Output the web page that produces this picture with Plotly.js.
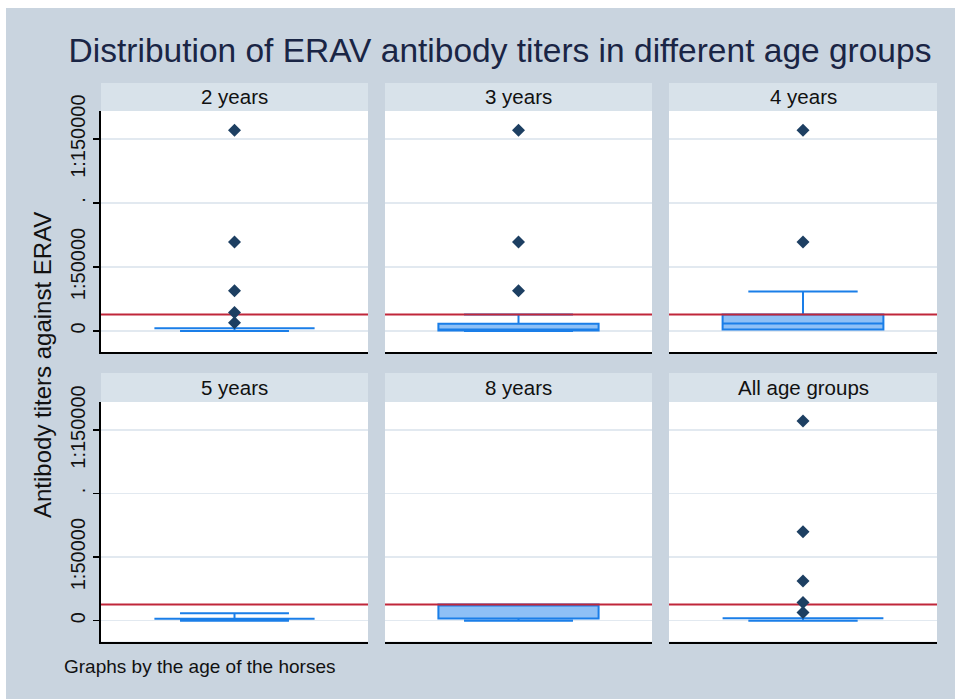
<!DOCTYPE html>
<html>
<head>
<meta charset="utf-8">
<script src="https://cdn.plot.ly/plotly-3.0.1.min.js"></script>
<style>
  html, body { margin: 0; padding: 0; background: #ffffff; }
  #chart { position: absolute; left: 6px; top: 8px; width: 949px; height: 691px; }
</style>
</head>
<body>
<div id="chart"></div>
<script>
// ---- Data ----
const groups = ["2 years", "3 years", "4 years", "5 years", "8 years", "All age groups"];
const q1Values = [2000, 400, 1100, 1600, 1800, 2000];
const medianValues = [2000, 1000, 5800, 1600, 12800, 2000];
const q3Values = [2000, 5600, 12800, 1600, 12800, 2000];
const lowerFenceValues = [0, 0, 1100, 0, 0, 0];
const upperFenceValues = [2000, 12800, 30800, 5800, 12800, 2000];
const outliers2y = [157000, 69500, 31400, 14400, 6300];
const outliers3y = [157000, 69500, 31400];
const outliers4y = [157000, 69500];
const outliers5y = [];
const outliers8y = [];
const outliersAll = [157000, 70000, 31300, 14400, 6500];
const outlierLists = [outliers2y, outliers3y, outliers4y, outliers5y, outliers8y, outliersAll];
const cutoffTiter = 12800;
const tickValues = [0, 50000, 100000, 150000];
const tickLabels = ["0", "1:50000", ".", "1:150000"];

// ---- Layout geometry (pixels inside the 949x691 div) ----
const W = 949, H = 691;
const px = x => (x - 6) / W;
const py = y => 1 - (y - 8) / H;
const colX = [[101, 368], [385, 652], [669, 937]];
const rowY = [[111, 352], [402, 641.7]];
const headY = [[83, 111], [373, 402]];

const boxLine = "#1a7ee8";
const boxFill = "#8ec0f6";
const markerColor = "#1d3f62";
const gridColor = "#e2e9f0";

const traces = [];
const layout = {
  width: W, height: H,
  margin: {l: 0, r: 0, t: 0, b: 0, pad: 0},
  paper_bgcolor: "#c9d4df",
  plot_bgcolor: "#ffffff",
  showlegend: false,
  font: {family: "Liberation Sans, Arial, sans-serif", color: "#111111"},
  title: {
    text: "Distribution of ERAV antibody titers in different age groups",
    font: {size: 33.5, color: "#1a2545", family: "Liberation Sans, Arial, sans-serif"},
    x: px(500), y: py(50), xref: "paper", yref: "paper",
    xanchor: "center", yanchor: "middle"
  },
  shapes: [],
  annotations: []
};

groups.forEach((g, i) => {
  const r = Math.floor(i / 3), c = i % 3;
  const n = i + 1;
  const xa = n === 1 ? "x" : "x" + n;
  const ya = n === 1 ? "y" : "y" + n;
  const xKey = n === 1 ? "xaxis" : "xaxis" + n;
  const yKey = n === 1 ? "yaxis" : "yaxis" + n;

  layout[xKey] = {
    domain: [px(colX[c][0]), px(colX[c][1])],
    anchor: ya,
    range: [-0.5, 0.5],
    showticklabels: false, ticks: "", showgrid: false, zeroline: false,
    showline: true, linecolor: "#000000", linewidth: 2, mirror: false,
    fixedrange: true
  };
  layout[yKey] = {
    domain: [py(rowY[r][1]), py(rowY[r][0])],
    anchor: xa,
    range: [-16500, 172000],
    tickvals: tickValues, ticktext: tickLabels,
    showticklabels: c === 0,
    tickangle: -90,
    ticks: c === 0 ? "outside" : "", ticklen: 6, tickwidth: 1.5, tickcolor: "#000000",
    tickfont: {size: 20, color: "#111111"},
    showline: c === 0, linecolor: "#000000", linewidth: 2,
    showgrid: true, gridcolor: gridColor, gridwidth: 1.5,
    zeroline: false, fixedrange: true
  };

  // Header strip
  layout.shapes.push({
    type: "rect", xref: "paper", yref: "paper", layer: "below",
    x0: px(colX[c][0]), x1: px(colX[c][1]),
    y0: py(headY[r][1]), y1: py(headY[r][0]),
    fillcolor: "#d8e2ea", line: {width: 0}
  });
  layout.annotations.push({
    text: g, xref: "paper", yref: "paper",
    x: (px(colX[c][0]) + px(colX[c][1])) / 2,
    y: py((headY[r][0] + headY[r][1]) / 2),
    xanchor: "center", yanchor: "middle", showarrow: false,
    font: {size: 20.5, color: "#111111"}
  });

  // Cut-off line (drawn first so the box lies on top of it)
  traces.push({
    type: "scatter", mode: "lines", xaxis: xa, yaxis: ya,
    x: [-0.5, 0.5], y: [cutoffTiter, cutoffTiter],
    line: {color: "#c0263a", width: 2},
    hoverinfo: "skip", cliponaxis: true
  });
  traces.push({
    type: "box", xaxis: xa, yaxis: ya,
    x: [0],
    q1: [q1Values[i]], median: [medianValues[i]], q3: [q3Values[i]],
    lowerfence: [lowerFenceValues[i]], upperfence: [upperFenceValues[i]],
    width: 0.6, whiskerwidth: 0.68,
    boxpoints: false,
    fillcolor: boxFill,
    line: {color: boxLine, width: 2},
    hoverinfo: "skip"
  });
  if (outlierLists[i].length) {
    traces.push({
      type: "scatter", mode: "markers", xaxis: xa, yaxis: ya,
      x: outlierLists[i].map(() => 0), y: outlierLists[i],
      marker: {symbol: "diamond", size: 10, color: markerColor},
      hoverinfo: "skip"
    });
  }
});

layout.annotations.push({
  text: "Antibody titers against ERAV", xref: "paper", yref: "paper",
  x: px(43), y: py(365), textangle: -90,
  xanchor: "center", yanchor: "middle", showarrow: false,
  font: {size: 24, color: "#111111"}
});
layout.annotations.push({
  text: "Graphs by the age of the horses", xref: "paper", yref: "paper",
  x: px(62), y: py(666), xanchor: "left", yanchor: "middle", showarrow: false,
  font: {size: 19, color: "#111111"}
});

Plotly.newPlot("chart", traces, layout, {staticPlot: true, displayModeBar: false});
</script>
</body>
</html>
